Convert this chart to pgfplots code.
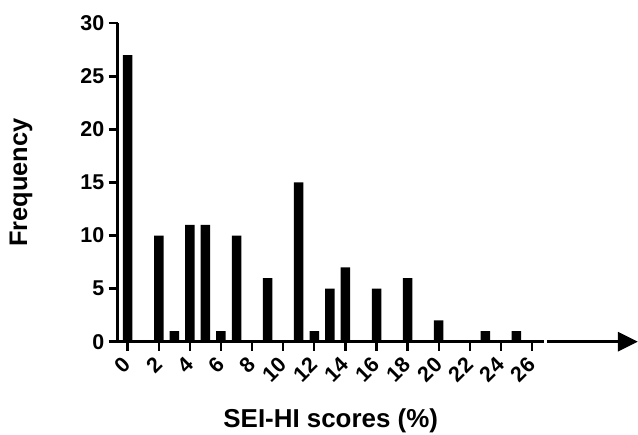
\documentclass[border=0pt]{standalone}
\usepackage{fontspec}
\setmainfont{Liberation Sans}
\usepackage{pgfplots}
\pgfplotsset{compat=1.18}
\usetikzlibrary{arrows.meta}

\newcommand\tickfont{\fontsize{21.5}{24}\selectfont\bfseries}

\begin{document}
\begin{tikzpicture}[x=1bp,y=1bp]
  \useasboundingbox (0,0) rectangle (638,435);
  \begin{axis}[
      at={(117.7bp,93.3bp)},
      anchor=south west,
      scale only axis,
      width=426bp,
      height=318.4bp,
      xmin=-0.64, xmax=26.75,
      ymin=0, ymax=30,
      axis lines=left,
      axis line style={-, line width=2.6bp},
      clip=false,
      xtick={0,2,...,26},
      ytick={0,5,...,30},
      tick align=outside,
      major tick length=9bp,
      tick style={line width=2.4bp, black},
      /pgf/number format/assume math mode=true,
      xticklabel style={font=\tickfont, yshift=-8bp, xshift=2bp, rotate=45, anchor=east},
      yticklabel style={font=\tickfont, xshift=-1bp},
      ybar,
      bar width=9.5bp,
      xlabel={SEI-HI scores (\%)},
      ylabel={Frequency},
      every axis x label/.style={at={(axis description cs:0.5,-0.271)}, anchor=base, font=\fontsize{26}{30}\selectfont\bfseries},
      every axis y label/.style={at={(axis description cs:-0.227,0.5)}, rotate=90, anchor=center, font=\fontsize{25.5}{30}\selectfont\bfseries},
    ]
    \addplot[fill=black, draw=none] coordinates {
      (0,27) (2,10) (3,1) (4,11) (5,11) (6,1) (7,10) (9,6) (11,15)
      (12,1) (13,5) (14,7) (16,5) (18,6) (20,2) (23,1) (25,1)
    };
    \draw[line width=3bp, -{Triangle[length=20bp,width=19bp]}]
      (axis cs:26.96,0) -- (axis cs:32.8,0);
  \end{axis}
\end{tikzpicture}
\end{document}
